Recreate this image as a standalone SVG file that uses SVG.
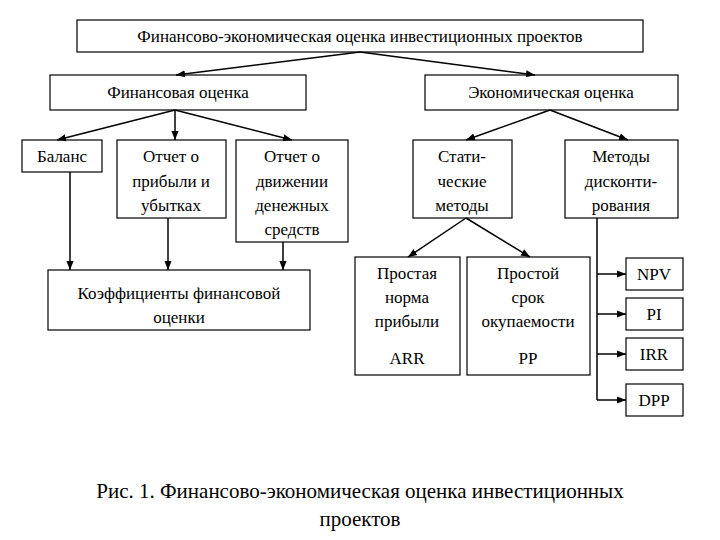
<svg xmlns="http://www.w3.org/2000/svg" width="720" height="540" viewBox="0 0 720 540">
<style>
rect{fill:#fff;stroke:#000;stroke-width:1.2}
text{font-family:'Liberation Serif','Times New Roman','DejaVu Serif',serif;font-size:17px;text-anchor:middle;fill:#000}
.c line{stroke:#000;stroke-width:1.5;fill:none}
.cap{font-size:21px}
</style>
<defs><marker id="a" viewBox="0 0 10 10" refX="10" refY="5" markerWidth="6" markerHeight="6" orient="auto"><path d="M0,1L10,5L0,9z" fill="#000"/></marker></defs>
<rect width="720" height="540" style="fill:#fff;stroke:none"/>
<g id="top"><rect x="77" y="20" width="566" height="32"/><text x="360" y="42">Финансово-экономическая оценка инвестиционных проектов</text></g>
<g id="fin"><rect x="50" y="75" width="256" height="35"/><text x="178" y="98">Финансовая оценка</text></g>
<g id="econ"><rect x="425" y="75" width="253" height="35"/><text x="551" y="98">Экономическая оценка</text></g>
<g id="bal"><rect x="22" y="140" width="80" height="32"/><text x="62" y="162">Баланс</text></g>
<g id="opu"><rect x="117" y="140" width="109" height="78"/><text x="171" y="162">Отчет о</text><text x="171" y="187">прибыли и</text><text x="171" y="211">убытках</text></g>
<g id="odds"><rect x="236" y="140" width="112" height="102"/><text x="292" y="162">Отчет о</text><text x="292" y="187">движении</text><text x="292" y="211">денежных</text><text x="292" y="235">средств</text></g>
<g id="stat"><rect x="413" y="140" width="99" height="78"/><text x="462" y="162">Стати-</text><text x="462" y="187">ческие</text><text x="462" y="211">методы</text></g>
<g id="disc"><rect x="565" y="140" width="113" height="78"/><text x="621" y="162">Методы</text><text x="621" y="187">дисконти-</text><text x="621" y="211">рования</text></g>
<g id="koef"><rect x="48" y="270" width="262" height="60"/><text x="179" y="299">Коэффициенты финансовой</text><text x="179" y="323">оценки</text></g>
<g id="arr"><rect x="355" y="257" width="105" height="118"/><text x="407" y="279">Простая</text><text x="407" y="303">норма</text><text x="407" y="327">прибыли</text><text x="407" y="364">ARR</text></g>
<g id="pp"><rect x="467" y="257" width="123" height="118"/><text x="528" y="279">Простой</text><text x="528" y="303">срок</text><text x="528" y="327">окупаемости</text><text x="528" y="364">PP</text></g>
<g id="npv"><rect x="626" y="258" width="57" height="32"/><text x="654" y="280">NPV</text></g>
<g id="pi"><rect x="626" y="298" width="57" height="32"/><text x="654" y="320">PI</text></g>
<g id="irr"><rect x="626" y="338" width="57" height="32"/><text x="654" y="360">IRR</text></g>
<g id="dpp"><rect x="626" y="384" width="57" height="32"/><text x="654" y="406">DPP</text></g>
<g class="c" id="connectors">
<line x1="360" y1="52" x2="176" y2="75" marker-end="url(#a)"/>
<line x1="360" y1="52" x2="535" y2="75" marker-end="url(#a)"/>
<line x1="175" y1="110" x2="57" y2="140" marker-end="url(#a)"/>
<line x1="175" y1="110" x2="175" y2="140" marker-end="url(#a)"/>
<line x1="175" y1="110" x2="292" y2="140" marker-end="url(#a)"/>
<line x1="550" y1="110" x2="466" y2="140" marker-end="url(#a)"/>
<line x1="550" y1="110" x2="628" y2="140" marker-end="url(#a)"/>
<line x1="70" y1="172" x2="70" y2="270" marker-end="url(#a)"/>
<line x1="168" y1="218" x2="168" y2="270" marker-end="url(#a)"/>
<line x1="283" y1="242" x2="283" y2="270" marker-end="url(#a)"/>
<line x1="466" y1="218" x2="408" y2="257" marker-end="url(#a)"/>
<line x1="466" y1="218" x2="530" y2="257" marker-end="url(#a)"/>
<line x1="597" y1="218" x2="597" y2="400"/>
<line x1="597" y1="274" x2="626" y2="274" marker-end="url(#a)"/>
<line x1="597" y1="314" x2="626" y2="314" marker-end="url(#a)"/>
<line x1="597" y1="354" x2="626" y2="354" marker-end="url(#a)"/>
<line x1="597" y1="400" x2="626" y2="400" marker-end="url(#a)"/>
</g>
<text class="cap" x="360" y="498">Рис. 1. Финансово-экономическая оценка инвестиционных</text>
<text class="cap" x="360" y="526">проектов</text>
</svg>
